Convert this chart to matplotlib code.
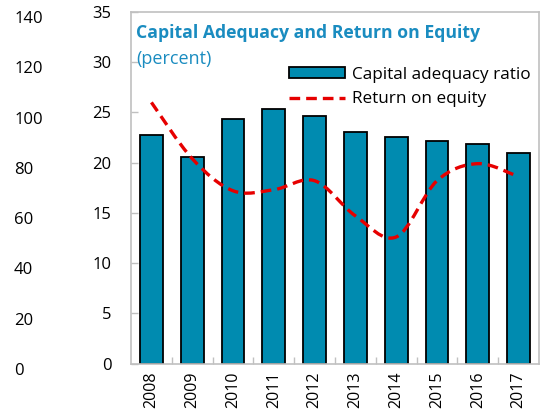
import matplotlib
matplotlib.use("Agg")
import matplotlib.pyplot as plt
import numpy as np
from matplotlib.path import Path
from matplotlib.patches import PathPatch
from matplotlib.lines import Line2D

plt.rcParams['font.family'] = ['Open Sans', 'DejaVu Sans']

years = ['2008', '2009', '2010', '2011', '2012', '2013', '2014', '2015', '2016', '2017']
capital_adequacy = [22.8, 20.6, 24.3, 25.3, 24.6, 23.1, 22.6, 22.2, 21.9, 21.0]
return_on_equity = [26.0, 20.4, 17.2, 17.3, 18.2, 14.7, 12.6, 18.2, 19.9, 18.6]
inner_ticks = [0, 5, 10, 15, 20, 25, 30, 35]
outer_ticks = [0, 20, 40, 60, 80, 100, 120, 140]

bar_color = '#008bb0'
red = '#e60000'
grey = '#c0c0c0'
teal = '#1a8cc0'


def smooth_path(x, y):
    # excel style smoothed line (catmull-rom as bezier)
    pts = np.column_stack([x, y]).astype(float)
    verts = [pts[0]]
    codes = [Path.MOVETO]
    n = len(pts)
    for i in range(n - 1):
        p0 = pts[max(i - 1, 0)]
        p1 = pts[i]
        p2 = pts[i + 1]
        p3 = pts[min(i + 2, n - 1)]
        verts += [p1 + (p2 - p0) / 6, p2 - (p3 - p1) / 6, p2]
        codes += [Path.CURVE4] * 3
    return Path(verts, codes)


fig = plt.figure(figsize=(5.42, 4.2), dpi=100)
ax = fig.add_axes([131/542, 56.5/420, 408/542, 351.5/420])

x = np.arange(len(years))
ax.bar(x, capital_adequacy, width=0.56, color=bar_color, edgecolor='black',
       linewidth=1.3, label='Capital adequacy ratio', zorder=2)
roe_path = PathPatch(smooth_path(x, return_on_equity), fill=False, edgecolor=red,
                     linewidth=2.4, linestyle=(0, (3.2, 1.8)), zorder=3)
ax.add_patch(roe_path)

ax.set_xlim(-0.5, len(years) - 0.5)
ax.set_ylim(0, 35)
ax.set_yticks(inner_ticks)
ax.set_xticks(x)
ax.set_xticklabels(years, rotation=90, fontsize=11.5)
ax.set_xticks(np.arange(0.5, len(years) - 1, 1), minor=True)
ax.tick_params(axis='x', which='major', length=0, pad=6)
ax.tick_params(axis='x', which='minor', direction='in', length=5, color=grey, width=1)
ax.tick_params(axis='y', direction='in', length=5, color=grey, width=1, pad=14, labelsize=12)
for s in ax.spines.values():
    s.set_color(grey)
    s.set_linewidth(1.2)

ax.text(0.012, 0.941, 'Capital Adequacy and Return on Equity', transform=ax.transAxes,
        color=teal, fontsize=12.7, fontweight='bold', va='center', ha='left')
ax.text(0.012, 0.866, '(percent)', transform=ax.transAxes,
        color=teal, fontsize=13, va='center', ha='left')

handles = [plt.Rectangle((0, 0), 1, 1, facecolor=bar_color, edgecolor='black', linewidth=1.3),
           Line2D([], [], color=red, linewidth=2.4, linestyle=(0, (3.2, 1.8)))]
ax.legend(handles, ['Capital adequacy ratio', 'Return on equity'], loc='upper right',
          bbox_to_anchor=(1.0, 0.868), frameon=False, fontsize=12.3, handlelength=3.3,
          handleheight=0.6, handletextpad=0.4, labelspacing=0.5, borderaxespad=0.1)

# outer left scale (0-140)
ax2 = fig.add_axes([14/542, 51/420, 0.0001, 352/420])
ax2.set_ylim(0, 140)
ax2.set_yticks(outer_ticks)
ax2.yaxis.tick_right()
ax2.tick_params(axis='y', length=0, pad=0, labelsize=12)
ax2.set_xticks([])
for s in ax2.spines.values():
    s.set_visible(False)
ax2.patch.set_visible(False)

fig.savefig('out.png', dpi=100)
